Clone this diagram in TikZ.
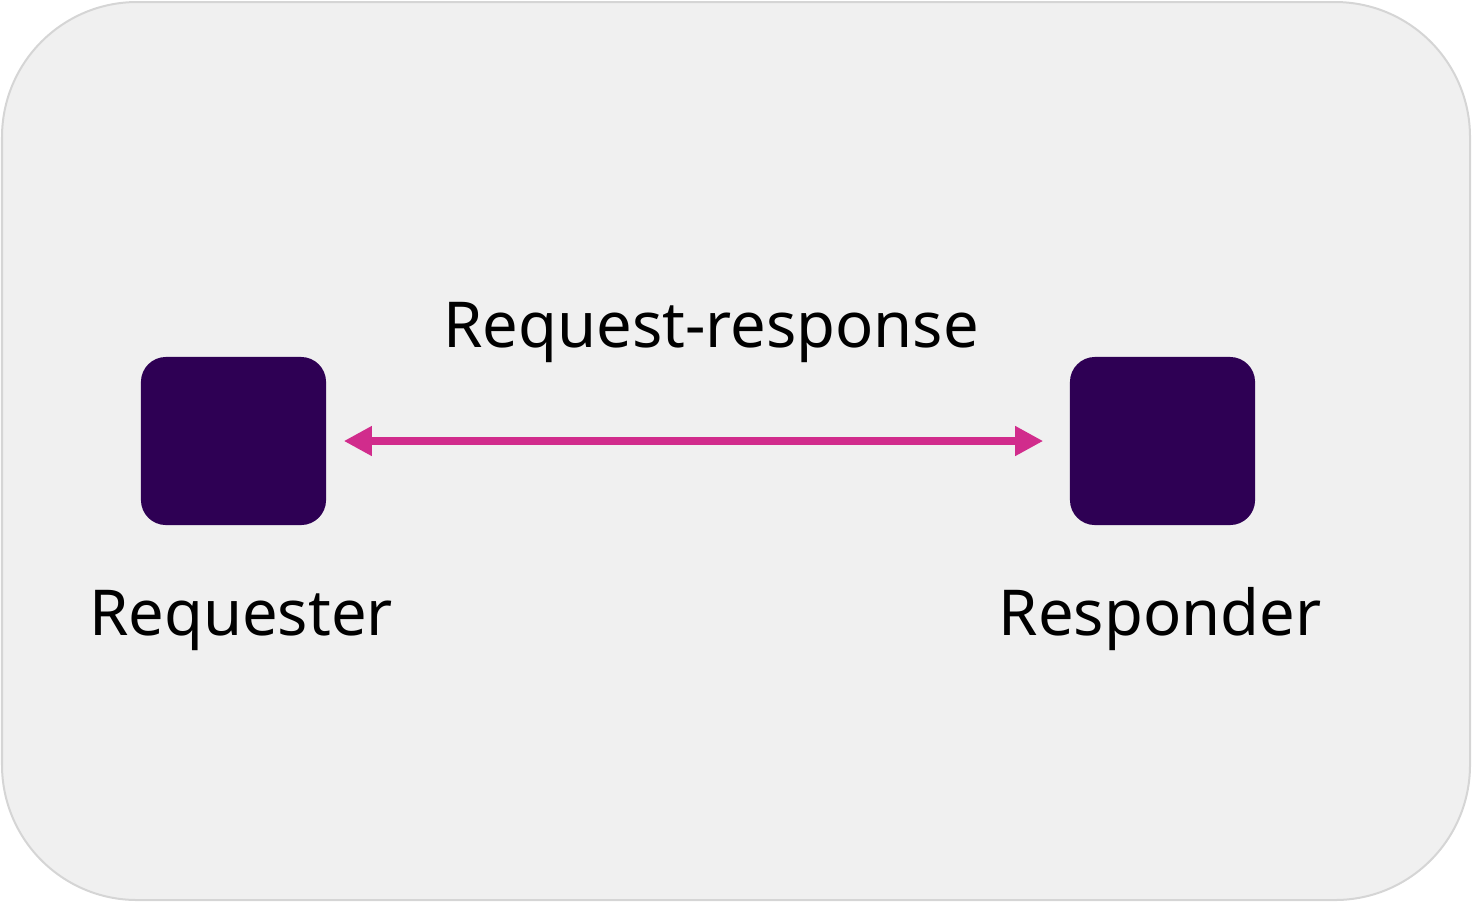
\documentclass[tikz,border=0pt]{standalone}
\usepackage{fontspec}
\setmainfont{Noto Sans}
\usetikzlibrary{arrows.meta}
\definecolor{panelgray}{RGB}{240,240,240}
\definecolor{panelline}{RGB}{213,213,213}
\definecolor{actorpurple}{RGB}{46,0,84}
\definecolor{flowpink}{RGB}{209,44,140}
\begin{document}
\begin{tikzpicture}[x=0.01cm, y=-0.01cm]
	\tikzstyle{actor} = [rectangle, rounded corners=0.25cm, fill=actorpurple, draw=none, minimum width=1.85cm, minimum height=1.68cm]
	\tikzstyle{caption} = [font=\fontsize{18}{22}\selectfont, inner sep=0pt, anchor=base]
	\useasboundingbox (0,0) rectangle (1476,902);
	\draw [panelline, fill=panelgray, line width=0.02cm, rounded corners=1.35cm] (2,2) rectangle (1470,900);
	\node[actor] (Requester) at (233.5,441) {};
	\node[actor] (Responder) at (1162.5,441) {};
	\node[caption] (RequesterText) at (241,635) {Requester};
	\node[caption] (ResponderText) at (1160,635) {Responder};
	\node[caption] (FlowText) at (711,347) {Request-response};
	\draw [flowpink, line width=0.08cm, {Triangle[length=0.28cm,width=0.28cm]}-{Triangle[length=0.28cm,width=0.28cm]}, shorten <=0.17cm, shorten >=0.26cm] (Requester)--(Responder);
\end{tikzpicture}
\end{document}
